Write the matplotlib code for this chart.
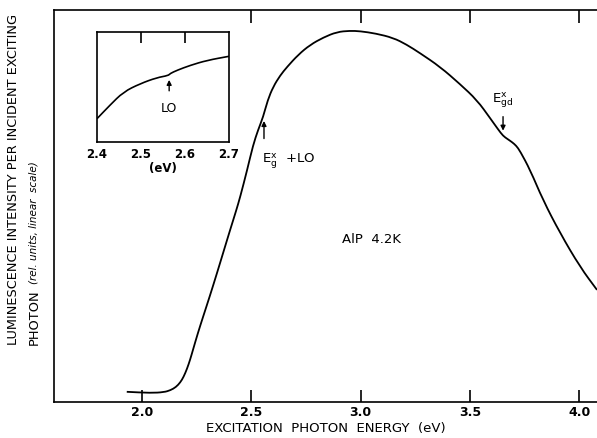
import matplotlib
matplotlib.use("Agg")
import matplotlib.pyplot as plt
from matplotlib.path import Path
from matplotlib.patches import PathPatch

# Main spectrum (eV, relative intensity)
energy = [1.93, 2.04, 2.10, 2.13, 2.155, 2.175, 2.19, 2.206, 2.22, 2.233, 2.255, 2.279, 2.31,
          2.343, 2.373, 2.403, 2.43, 2.449, 2.481, 2.508, 2.531, 2.554, 2.575, 2.600,
          2.632, 2.664, 2.715, 2.769, 2.83, 2.892, 2.95, 2.998, 3.07, 3.149, 3.21,
          3.272, 3.364, 3.455, 3.533, 3.593, 3.630, 3.652, 3.672, 3.693, 3.712, 3.730, 3.776,
          3.835, 3.913, 4.005, 4.082]
intensity = [0.026, 0.023, 0.025, 0.030, 0.038, 0.050, 0.064, 0.085, 0.108, 0.133, 0.175,
             0.217, 0.270, 0.329, 0.384, 0.439, 0.487, 0.523, 0.592, 0.655, 0.694, 0.727,
             0.770, 0.804, 0.833, 0.855, 0.886, 0.911, 0.930, 0.944, 0.947, 0.946, 0.940,
             0.929, 0.912, 0.890, 0.855, 0.811, 0.770, 0.724, 0.695, 0.679, 0.671, 0.663,
             0.654, 0.640, 0.592, 0.515, 0.431, 0.344, 0.286]

# Inset detail
in_energy = [2.400, 2.429, 2.460, 2.498, 2.536, 2.562, 2.566, 2.582, 2.612, 2.650, 2.700]
in_intensity = [0.212, 0.333, 0.455, 0.530, 0.585, 0.604, 0.622, 0.652, 0.697, 0.742, 0.779]

main_ticks = [2.0, 2.5, 3.0, 3.5, 4.0]
main_ticklabels = ["2.0", "2.5", "3.0", "3.5", "4.0"]
top_ticks = [2.5, 3.0, 3.5, 4.0]
inset_ticks = [2.4, 2.5, 2.6, 2.7]
inset_ticklabels = ["2.4", "2.5", "2.6", "2.7"]

plt.rcParams['font.family'] = ['DejaVu Sans']


def smooth_line(axis, xs, ys, lw):
    """Draw a smooth curve through the points (midpoint quadratic Bezier)."""
    pts = list(zip(xs, ys))
    verts = [pts[0]]
    codes = [Path.MOVETO]
    mid = lambda a, b: ((a[0] + b[0]) / 2, (a[1] + b[1]) / 2)
    verts.append(mid(pts[0], pts[1]))
    codes.append(Path.LINETO)
    for i in range(1, len(pts) - 1):
        verts += [pts[i], mid(pts[i], pts[i + 1])]
        codes += [Path.CURVE3, Path.CURVE3]
    verts.append(pts[-1])
    codes.append(Path.LINETO)
    axis.add_patch(PathPatch(Path(verts, codes), facecolor='none', edgecolor='black',
                             lw=lw, transform=axis.transData, clip_on=True))


fig = plt.figure(figsize=(5.97, 4.38), dpi=100)
ax = fig.add_axes([54/597, 36/438, 1 - 54/597, 392/438])
smooth_line(ax, energy, intensity, 1.3)
ax.set_xlim(1.597, 4.082)
ax.set_ylim(0, 1)
for s in ax.spines.values():
    s.set_linewidth(1.2)
ax.spines['right'].set_visible(False)
ax.set_xticks(main_ticks)
ax.set_xticklabels(main_ticklabels, fontsize=9, fontweight='bold')
ax.set_yticks([])
ax.tick_params(axis='x', direction='in', length=9, width=1.2, pad=3)
sec = ax.secondary_xaxis('top')
sec.set_xticks(top_ticks)
sec.set_xticklabels([])
sec.tick_params(direction='in', length=9, width=1.2)
sec.spines['top'].set_visible(False)

ax.set_xlabel("EXCITATION  PHOTON  ENERGY  (eV)", fontsize=9.5, labelpad=2)

fig.text(14/597, 1 - 345/438, "LUMINESCENCE INTENSITY PER INCIDENT EXCITING",
         rotation=90, ha='center', va='bottom', fontsize=9.3)
fig.text(34/597, 1 - 345/438, "PHOTON",
         rotation=90, ha='center', va='bottom', fontsize=9.3)
fig.text(34/597, 1 - 284/438, "(rel. units, linear  scale)",
         rotation=90, ha='center', va='bottom', fontsize=7.5, style='italic')

ax.text(3.05, 0.415, "AlP  4.2K", fontsize=9.5, ha='center', va='center')

# E_g^x + LO arrow
ax.annotate("", xy=(2.558, 0.724), xytext=(2.558, 0.665),
            arrowprops=dict(arrowstyle='-|>', color='black', lw=1.0, mutation_scale=7))
ax.text(2.55, 0.64, r"$\mathregular{E_g^x}$  +LO", fontsize=9.5, ha='left', va='top')

# E_gd^x arrow
ax.annotate("", xy=(3.652, 0.685), xytext=(3.652, 0.735),
            arrowprops=dict(arrowstyle='-|>', color='black', lw=1.0, mutation_scale=7))
ax.text(3.652, 0.745, r"$\mathregular{E_{gd}^x}$", fontsize=9.5, ha='center', va='bottom')

# Inset
ins = fig.add_axes([97/597, 1 - 142/438, 132/597, 110/438])
smooth_line(ins, in_energy, in_intensity, 1.2)
ins.set_xlim(2.4, 2.7)
ins.set_ylim(0, 1)
for s in ins.spines.values():
    s.set_linewidth(1.2)
ins.set_yticks([])
ins.set_xticks(inset_ticks)
ins.set_xticklabels(inset_ticklabels, fontsize=8.5, fontweight='bold')
ins.tick_params(axis='x', bottom=False, length=0, pad=4)
isec = ins.secondary_xaxis('top')
isec.set_xticks([2.5, 2.6])
isec.set_xticklabels([])
isec.tick_params(direction='in', length=8, width=1.2)
isec.spines['top'].set_visible(False)
ins.set_xlabel("(eV)", fontsize=8.5, fontweight='bold', labelpad=1)
ins.annotate("", xy=(2.564, 0.59), xytext=(2.564, 0.44),
             arrowprops=dict(arrowstyle='-|>', color='black', lw=1.0, mutation_scale=7))
ins.text(2.564, 0.30, "LO", fontsize=9, ha='center', va='center')

fig.savefig("out.png", dpi=100)
